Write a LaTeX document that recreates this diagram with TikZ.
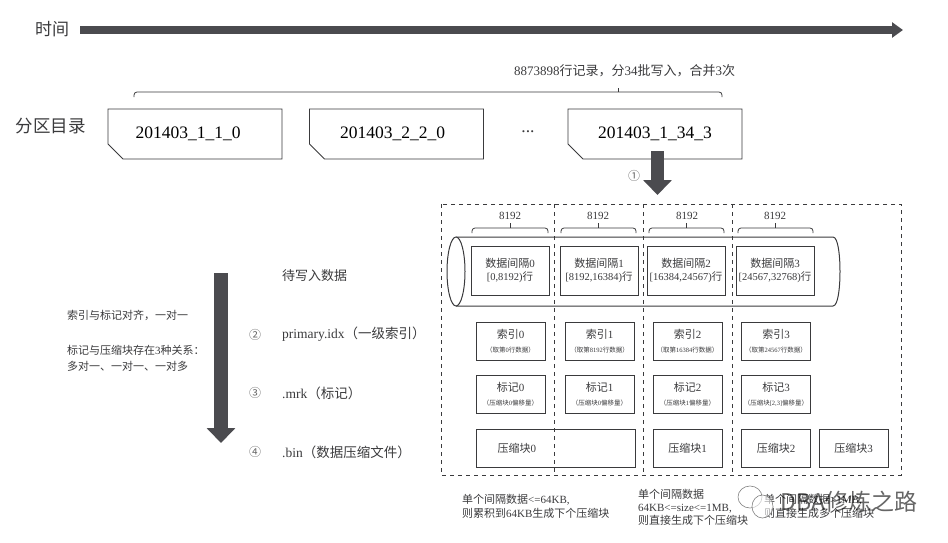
\documentclass[tikz,border=0pt]{standalone}
\usepackage{fontspec}
\setmainfont{Liberation Serif}
\newfontfamily\cjk{Noto Sans CJK SC}
\usetikzlibrary{arrows.meta,shapes.misc}
\newcommand{\zh}[1]{{\cjk #1}}
\newcommand{\fsize}[1]{\fontsize{#1}{#1}\selectfont}
\newcommand{\subtxt}[1]{{\fsize{6.5}#1}}
\definecolor{inkgray}{HTML}{3A3A3C}
\definecolor{arrowgray}{HTML}{4B4B4F}
\tikzset{
  txt/.style={text=inkgray,inner sep=0pt,font=\fsize{11}},
  lefttxt/.style={txt,anchor=west,align=left},
  steptxt/.style={txt,text=black!60,font=\fsize{12}},
  partbox/.style={draw=inkgray,line width=0.9pt,chamfered rectangle,chamfered rectangle corners=south west,
    chamfered rectangle xsep=8pt,chamfered rectangle ysep=8pt,inner sep=0pt,minimum width=174pt,minimum height=50pt,text=black,font=\fsize{17.5}},
  databox/.style={draw=inkgray,line width=1pt,minimum width=78pt,minimum height=49pt,inner sep=0pt,align=center,text=inkgray,font=\fsize{10.5}},
  markbox/.style={draw=inkgray,line width=1pt,minimum width=69pt,minimum height=38pt,inner sep=0pt,align=center,text=inkgray,font=\fsize{11}},
  blockarrow/.style={draw=arrowgray,line width=13.5pt,-{Triangle[length=15pt,width=28pt]}},
  dashline/.style={draw=inkgray,line width=0.9pt,dash pattern=on 4pt off 4pt},
  bracket/.style={draw=inkgray,line width=0.8pt,rounded corners=3pt},
}
\begin{document}
\begin{tikzpicture}[x=1pt,y=-1pt]
  \useasboundingbox (0,0) rectangle (948,543);

  % time line
  \node[txt,font=\fsize{17}] (time) at (52,29) {\zh{时间}};
  \coordinate (timeA) at (80,30);
  \coordinate (timeB) at (903,30);
  \draw[draw=arrowgray,line width=7.5pt,-{Triangle[length=11pt,width=15pt]}] (timeA) -- (timeB);

  % partition directories
  \node[txt,font=\fsize{17.5}] (dirlabel) at (51,126) {\zh{分区目录}};
  \node[partbox] (part1) at (195,134) {201403\_1\_1\_0\kern14pt};
  \node[partbox] (part2) at (396.5,134) {201403\_2\_2\_0\kern8pt};
  \node[txt,font=\fsize{17.5}] (partdots) at (528,132) {...};
  \node[partbox] (part3) at (655,134) {201403\_1\_34\_3};
  \draw[bracket] (134,97) -- (134,92) -- (722,92) -- (722,97);
  \draw[bracket] (618,92) -- (618,88);
  \node[txt,font=\fsize{13}] (records) at (624.5,71) {8873898\zh{行记录，分}34\zh{批写入，合并}3\zh{次}};

  % arrow from the last part
  \coordinate (downA) at (657.5,151);
  \coordinate (downB) at (657.5,195);
  \draw[blockarrow] (downA) -- (downB);
  \node[steptxt] (step1) at (634,176) {\zh{①}};

  % dashed frame and columns
  \draw[dashline] (441,204) rectangle (901,475);
  \draw[dashline] (554.5,204) -- (554.5,475);
  \draw[dashline] (643,204) -- (643,475);
  \draw[dashline] (732,204) -- (732,475);

  % 8192 above each column
  \node[txt] (size0) at (510,216) {8192};
  \node[txt] (size1) at (598,216) {8192};
  \node[txt] (size2) at (687,216) {8192};
  \node[txt] (size3) at (775,216) {8192};
  \draw[bracket] (472,233) -- (472,228) -- (548,228) -- (548,233);
  \draw[bracket] (510,228) -- (510,222.5);
  \draw[bracket] (561,233) -- (561,228) -- (636,228) -- (636,233);
  \draw[bracket] (598.5,228) -- (598.5,222.5);
  \draw[bracket] (649,233) -- (649,228) -- (724,228) -- (724,233);
  \draw[bracket] (686.5,228) -- (686.5,222.5);
  \draw[bracket] (738,233) -- (738,228) -- (813,228) -- (813,233);
  \draw[bracket] (775.5,228) -- (775.5,222.5);

  % tube of data to write
  \draw[draw=inkgray,line width=1pt] (456,237) -- (833,237)
    .. controls (838,237) and (840,255) .. (840,271.5)
    .. controls (840,288) and (838,306) .. (833,306) -- (456,306);
  \draw[draw=inkgray,line width=1pt,fill=white] (456,271.5) ellipse [x radius=9pt,y radius=34.5pt];

  % data ranges
  \node[databox] (data0) at (510,270.5) {{\fsize{11}\zh{数据间隔}0}\\[2pt]{[}0,8192)\zh{行}};
  \node[databox] (data1) at (599,270.5) {{\fsize{11}\zh{数据间隔}1}\\[2pt]{[}8192,16384)\zh{行}};
  \node[databox] (data2) at (686,270.5) {{\fsize{11}\zh{数据间隔}2}\\[2pt]{[}16384,24567)\zh{行}};
  \node[databox] (data3) at (775,270.5) {{\fsize{11}\zh{数据间隔}3}\\[2pt]{[}24567,32768)\zh{行}};

  % primary.idx
  \node[markbox] (idx0) at (510.5,341) {\zh{索引}0\\[3pt]\subtxt{\zh{（取第}0\zh{行数据）}}};
  \node[markbox] (idx1) at (599.5,341) {\zh{索引}1\\[3pt]\subtxt{\zh{（取第}8192\zh{行数据）}}};
  \node[markbox] (idx2) at (687.5,341) {\zh{索引}2\\[3pt]\subtxt{\zh{（取第}16384\zh{行数据）}}};
  \node[markbox] (idx3) at (776,341) {\zh{索引}3\\[3pt]\subtxt{\zh{（取第}24567\zh{行数据）}}};

  % .mrk
  \node[markbox] (mrk0) at (510.5,394) {\zh{标记}0\\[3pt]\subtxt{\zh{（压缩块}0\zh{偏移量）}}};
  \node[markbox] (mrk1) at (599.5,394) {\zh{标记}1\\[3pt]\subtxt{\zh{（压缩块}0\zh{偏移量）}}};
  \node[markbox] (mrk2) at (687.5,394) {\zh{标记}2\\[3pt]\subtxt{\zh{（压缩块}1\zh{偏移量）}}};
  \node[markbox] (mrk3) at (776,394) {\zh{标记}3\\[3pt]\subtxt{\zh{（压缩块}[2,3]\zh{偏移量）}}};

  % .bin
  \node[markbox,minimum width=159pt,text width=141pt,align=left] (bin0) at (555.5,448) {\hspace{12.5pt}\zh{压缩块}0};
  \node[markbox] (bin1) at (687.5,448) {\zh{压缩块}1};
  \node[markbox] (bin2) at (776,448) {\zh{压缩块}2};
  \node[markbox] (bin3) at (853.5,448) {\zh{压缩块}3};

  % notes under the blocks
  \node[lefttxt] (note0) at (462,506.5) {\zh{单个间隔数据}<=64KB,\\[3.5pt]\zh{则累积到}64KB\zh{生成下个压缩块}};
  \node[lefttxt] (note1) at (638,507) {\zh{单个间隔数据}\\[2pt]64KB<=size<=1MB,\\[2pt]\zh{则直接生成下个压缩块}};
  \node[lefttxt] (note2) at (764,506) {\zh{单个间隔数据}>1MB,\\[3pt]\zh{则直接生成多个压缩块}};

  % write order arrow
  \coordinate (orderA) at (221,273);
  \coordinate (orderB) at (221,443);
  \draw[blockarrow] (orderA) -- (orderB);

  % left notes
  \node[lefttxt] (align1) at (67,315) {\zh{索引与标记对齐，一对一}};
  \node[lefttxt] (align2) at (67,358) {\zh{标记与压缩块存在}3\zh{种关系：}\\[5pt]\zh{多对一、一对一、一对多}};

  % file names
  \node[lefttxt,font=\fsize{13}] (towrite) at (282,276) {\zh{待写入数据}};
  \node[steptxt] (step2) at (255,335) {\zh{②}};
  \node[lefttxt,font=\fsize{13.5}] (fileidx) at (282,334) {primary.idx\zh{（一级索引）}};
  \node[steptxt] (step3) at (255,393) {\zh{③}};
  \node[lefttxt,font=\fsize{13.5}] (filemrk) at (282,393) {.mrk\zh{（标记）}};
  \node[steptxt] (step4) at (255,452) {\zh{④}};
  \node[lefttxt,font=\fsize{13.5}] (filebin) at (282,452) {.bin\zh{（数据压缩文件）}};

  % watermark
  \draw[draw=gray,line width=0.6pt] (750,497) ellipse [x radius=12pt,y radius=11pt];
  \draw[draw=gray,line width=0.6pt,fill=white,fill opacity=0.6] (762.5,506.5) ellipse [x radius=10.5pt,y radius=11.5pt];
  \node[lefttxt,text=black,text opacity=0.6,font=\fsize{23}] (mark) at (780,502) {\cjk DBA修炼之路};
\end{tikzpicture}
\end{document}
